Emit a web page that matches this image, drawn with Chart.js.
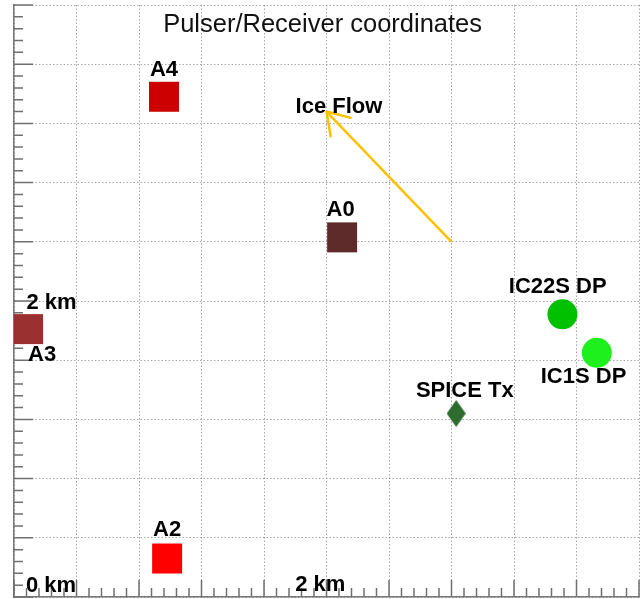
<!DOCTYPE html>
<html><head><meta charset="utf-8">
<script src="https://cdn.jsdelivr.net/npm/chart.js@4.4.0/dist/chart.umd.min.js"></script>
<style>html,body{margin:0;padding:0;background:#fff}#wrap{width:644px;height:599px}</style>
</head><body><div id="wrap"><canvas id="c" width="644" height="599"></canvas></div>
<script>
// ---- data (km) ----
const stationNames  = ['A4', 'A0', 'A3', 'A2', 'IC22S DP', 'IC1S DP', 'SPICE Tx'];
const stationX      = [0.96, 2.10, 0.09, 0.98, 3.51, 3.73, 2.83];
const stationY      = [3.38, 2.43, 1.81, 0.26, 1.91, 1.65, 1.24];
const stationColors = ['#cc0000', '#5e2a2a', '#9a3030', '#ff0000', '#00c000', '#1ef01e', '#2e6b2e'];
const iceFlowX = [2.80, 2.00];
const iceFlowY = [2.40, 3.28];
const axisMin = 0, axisMax = 4, majorStep = 0.4, minorPerMajor = 5;
const titleText = 'Pulser/Receiver coordinates';
// text annotations: [text, x(km), y(km)]
const annotations = [
  ['A4', 0.96, 3.56], ['Ice Flow', 2.08, 3.31], ['A0', 2.09, 2.615],
  ['2 km', 0.24, 1.99], ['A3', 0.18, 1.635], ['IC22S DP', 3.48, 2.095],
  ['IC1S DP', 3.645, 1.49], ['SPICE Tx', 2.885, 1.39], ['A2', 0.98, 0.453],
  ['0 km', 0.237, 0.078], ['2 km', 1.96, 0.081]
];

function diamond(w, h, color) {
  const c = document.createElement('canvas');
  c.width = w; c.height = h;
  const g = c.getContext('2d');
  g.fillStyle = color;
  g.beginPath();
  g.moveTo(w / 2, 0); g.lineTo(w, h / 2); g.lineTo(w / 2, h); g.lineTo(0, h / 2);
  g.closePath(); g.fill();
  return c;
}

const styles = stationNames.map((n, i) => {
  if (n.startsWith('A')) return 'rect';
  if (n.startsWith('IC')) return 'circle';
  return diamond(19, 27, stationColors[i]);
});
const radii = stationNames.map(n => n.startsWith('A') ? 21.2 : (n.startsWith('IC') ? 15 : 14));

const ticksPlugin = {
  id: 'rootTicks',
  beforeDatasetsDraw(chart) {
    const {ctx, chartArea: a, scales: {x, y}} = chart;
    ctx.save();
    ctx.strokeStyle = '#707070';
    ctx.lineWidth = 1.5;
    const n = Math.round((axisMax - axisMin) / majorStep * minorPerMajor);
    for (let i = 0; i <= n; i++) {
      const v = axisMin + i * majorStep / minorPerMajor;
      const major = i % minorPerMajor === 0;
      const px = x.getPixelForValue(v);
      const py = y.getPixelForValue(v);
      ctx.beginPath();
      ctx.moveTo(px, a.bottom); ctx.lineTo(px, a.bottom - (major ? 17 : 9));
      ctx.moveTo(a.left, py); ctx.lineTo(a.left + (major ? 19 : 9), py);
      ctx.stroke();
    }
    ctx.restore();
  },
  afterDatasetsDraw(chart) {
    const {ctx, scales: {x, y}} = chart;
    // arrow head
    const hx = x.getPixelForValue(iceFlowX[1]), hy = y.getPixelForValue(iceFlowY[1]);
    const tx = x.getPixelForValue(iceFlowX[0]), ty = y.getPixelForValue(iceFlowY[0]);
    const ang = Math.atan2(ty - hy, tx - hx);
    ctx.save();
    ctx.strokeStyle = '#ffc000';
    ctx.lineWidth = 2.5;
    ctx.lineCap = 'round';
    ctx.beginPath();
    [-0.55, 0.6].forEach(d => {
      ctx.moveTo(hx, hy);
      ctx.lineTo(hx + 25 * Math.cos(ang + d), hy + 25 * Math.sin(ang + d));
    });
    ctx.stroke();
    // labels
    ctx.fillStyle = '#000';
    ctx.textAlign = 'center';
    ctx.textBaseline = 'middle';
    ctx.font = 'bold 22px "Liberation Sans", Arial, sans-serif';
    annotations.forEach(([t, vx, vy]) => {
      ctx.fillText(t, x.getPixelForValue(vx), y.getPixelForValue(vy));
    });
    ctx.font = '25.5px "Liberation Sans", Arial, sans-serif';
    ctx.fillStyle = '#111';
    ctx.fillText(titleText, x.getPixelForValue(1.975), 25);
    ctx.restore();
  }
};

const gridOpts = {color: 'rgba(130,130,130,0.7)', lineWidth: 1, drawTicks: false};
const borderOpts = {display: true, color: '#777', width: 1.5, dash: [1.5, 2]};

new Chart(document.getElementById('c'), {
  type: 'scatter',
  data: {
    datasets: [
      {
        label: 'Ice Flow',
        data: iceFlowX.map((v, i) => ({x: v, y: iceFlowY[i]})),
        showLine: true, borderColor: '#ffc000', borderWidth: 2.5,
        pointRadius: 0, order: 2
      },
      {
        label: 'stations',
        data: stationX.map((v, i) => ({x: v, y: stationY[i]})),
        pointStyle: styles, pointRadius: radii,
        backgroundColor: stationColors, borderColor: stationColors, borderWidth: 0,
        order: 1
      }
    ]
  },
  options: {
    responsive: false, animation: false, devicePixelRatio: 1,
    layout: {autoPadding: false, padding: {left: 14, right: 5, top: 5, bottom: 2}},
    plugins: {legend: {display: false}, tooltip: {enabled: false}, title: {display: false}},
    scales: {
      x: {type: 'linear', min: axisMin, max: axisMax, ticks: {display: false, stepSize: majorStep},
          grid: gridOpts, border: borderOpts},
      y: {type: 'linear', min: axisMin, max: axisMax, ticks: {display: false, stepSize: majorStep},
          grid: gridOpts, border: borderOpts}
    }
  },
  plugins: [ticksPlugin]
});
</script></body></html>
